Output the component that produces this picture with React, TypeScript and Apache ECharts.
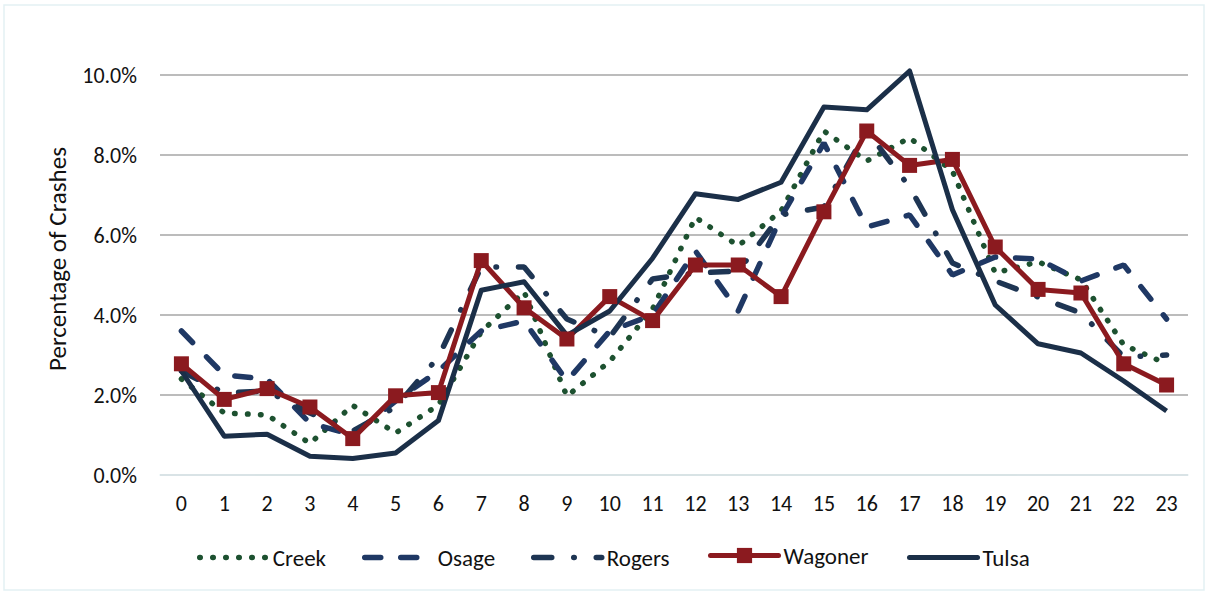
import React, { useEffect, useRef } from "react";
import * as echarts from "echarts";

const hours = ["0","1","2","3","4","5","6","7","8","9","10","11","12","13","14","15","16","17","18","19","20","21","22","23"];
const creek = [2.4, 1.55, 1.5, 0.79, 1.74, 1.05, 1.75, 3.58, 4.58, 1.97, 2.84, 4.15, 6.44, 5.73, 6.6, 8.6, 7.85, 8.43, 7.6, 5.05, 5.33, 4.88, 3.25, 2.78];
const osage = [3.6, 2.5, 2.4, 1.3, 1.0, 1.85, 2.6, 3.6, 3.85, 2.35, 3.6, 4.0, 5.6, 4.1, 6.45, 8.3, 6.2, 6.5, 5.0, 5.45, 5.4, 4.85, 5.25, 3.9];
const rogers = [2.6, 2.05, 2.1, 1.55, 1.1, 1.7, 2.95, 5.2, 5.2, 3.9, 3.45, 4.9, 5.05, 5.1, 6.5, 6.7, 8.6, 7.2, 5.3, 4.85, 4.45, 4.05, 2.95, 3.0];
const wagoner = [2.78, 1.89, 2.16, 1.7, 0.91, 1.98, 2.06, 5.36, 4.18, 3.4, 4.46, 3.86, 5.25, 5.25, 4.46, 6.58, 8.6, 7.74, 7.89, 5.7, 4.64, 4.55, 2.78, 2.25];
const tulsa = [2.6, 0.97, 1.02, 0.47, 0.41, 0.55, 1.36, 4.62, 4.83, 3.49, 4.1, 5.42, 7.03, 6.89, 7.32, 9.2, 9.13, 10.1, 6.63, 4.25, 3.28, 3.05, 2.35, 1.6];
const yTicks = [0, 2, 4, 6, 8, 10];

const FONT = "Carlito, Calibri, Lato, sans-serif";

const C_CREEK = "#1d5130";
const C_OSAGE = "#1f3864";
const C_ROGERS = "#1e3553";
const C_WAGONER = "#8b1a1f";
const C_TULSA = "#1b2f48";

const DASH_CREEK = [0.5, 12.5];
const DASH_OSAGE = [16, 20];
const DASH_ROGERS = [18, 22, 0.5, 22];

export default function App() {
  const ref = useRef<HTMLDivElement>(null);
  useEffect(() => {
    if (!ref.current) return;
    const chart = echarts.init(ref.current, null, { renderer: "svg" });
    const legendItem = (
      name: string,
      left: number,
      lineStyle: any,
      itemStyle: any,
      itemHeight: number,
      top: number
    ) => ({
      data: [name],
      left,
      top,
      itemWidth: 68,
      itemHeight,
      itemGap: 0,
      padding: 0,
      lineStyle,
      itemStyle,
      textStyle: { fontFamily: FONT, fontSize: 23, color: "#111" },
    });
    chart.setOption({
      animation: false,
      backgroundColor: "#ffffff",
      grid: { left: 160, right: 21, top: 75, bottom: 119 },
      graphic: [
        {
          type: "rect",
          shape: { x: 4, y: 5, width: 1200, height: 585 },
          style: { fill: "none", stroke: "#e3f1f4", lineWidth: 1.5 },
          silent: true,
        },
        {
          type: "text",
          x: 57,
          y: 259,
          rotation: Math.PI / 2,
          style: {
            text: "Percentage of Crashes",
            fontFamily: FONT,
            fontSize: 25,
            fill: "#111",
            align: "center",
            verticalAlign: "middle",
          },
        },
      ],
      legend: [
        legendItem("Creek", 197, { width: 5.5, type: DASH_CREEK, cap: "round", color: C_CREEK }, { opacity: 0 }, 15, 546),
        legendItem("Osage", 362, { width: 5.5, type: DASH_OSAGE, cap: "round", color: C_OSAGE }, { opacity: 0 }, 15, 546),
        legendItem("Rogers", 531, { width: 5.5, type: DASH_ROGERS, cap: "round", color: C_ROGERS }, { opacity: 0 }, 15, 546),
        legendItem("Wagoner", 708, { width: 5, color: C_WAGONER, cap: "round" }, { color: C_WAGONER, opacity: 1 }, 19, 544),
        legendItem("Tulsa", 907, { width: 5, color: C_TULSA, cap: "round" }, { opacity: 0 }, 15, 546),
      ],
      xAxis: {
        type: "category",
        data: hours,
        boundaryGap: true,
        axisTick: { show: false },
        axisLine: { lineStyle: { color: "#e2f0f3", width: 1.5 } },
        axisLabel: { fontFamily: FONT, fontSize: 22, color: "#111", margin: 17 },
      },
      yAxis: {
        type: "value",
        min: yTicks[0],
        max: yTicks[yTicks.length - 1],
        interval: 2,
        axisLine: { show: false },
        axisTick: { show: false },
        axisLabel: {
          fontFamily: FONT,
          fontSize: 22,
          color: "#111",
          margin: 23,
          formatter: (v: number) => v.toFixed(1) + "%",
        },
        splitLine: { lineStyle: { color: "#a6a6a6", width: 1.5 } },
      },
      series: [
        {
          name: "Creek",
          type: "line",
          data: creek,
          symbol: "none",
          clip: false,
          color: C_CREEK,
          lineStyle: { color: C_CREEK, width: 5.5, type: DASH_CREEK, cap: "round" },
        },
        {
          name: "Osage",
          type: "line",
          data: osage,
          symbol: "none",
          clip: false,
          color: C_OSAGE,
          lineStyle: { color: C_OSAGE, width: 5.5, type: DASH_OSAGE, cap: "round" },
        },
        {
          name: "Rogers",
          type: "line",
          data: rogers,
          symbol: "none",
          clip: false,
          color: C_ROGERS,
          lineStyle: { color: C_ROGERS, width: 5.5, type: DASH_ROGERS, cap: "round" },
        },
        {
          name: "Wagoner",
          type: "line",
          data: wagoner,
          symbol: "rect",
          symbolSize: 15,
          clip: false,
          color: C_WAGONER,
          itemStyle: { color: C_WAGONER },
          lineStyle: { color: C_WAGONER, width: 5 },
        },
        {
          name: "Tulsa",
          type: "line",
          data: tulsa,
          symbol: "none",
          clip: false,
          color: C_TULSA,
          lineStyle: { color: C_TULSA, width: 5, join: "round" },
        },
      ],
    });
    return () => chart.dispose();
  }, []);
  return (
    <div
      ref={ref}
      style={{ position: "absolute", left: 0, top: 0, width: 1209, height: 594 }}
    />
  );
}
